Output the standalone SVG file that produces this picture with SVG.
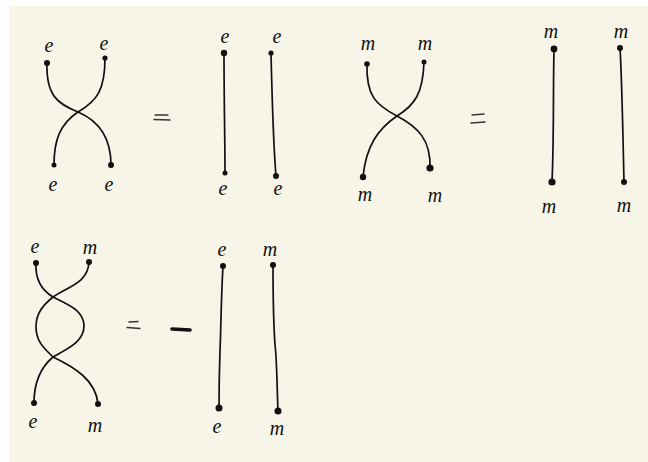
<svg xmlns="http://www.w3.org/2000/svg" width="648" height="462" viewBox="0 0 648 462">
<style>
.bg{fill:#f7f4e8}
.s{fill:none;stroke:#111;stroke-width:1.7;stroke-linecap:round;stroke-linejoin:round}
.eq{fill:none;stroke:#333;stroke-width:1.4;stroke-linecap:round}
.d{fill:#111}
.t{font-family:"Liberation Serif","DejaVu Serif",serif;font-style:italic;font-size:20px;fill:#111;text-anchor:middle}
</style>
<rect x="0" y="0" width="648" height="462" fill="#ffffff"/>
<rect class="bg" x="9" y="6" width="639" height="456"/>

<g id="connectors">
  <!-- panel 1 crossing -->
  <path class="s" d="M47,63 C46,96 58,104 78,112 C99,121 111,138 111,165"/>
  <path class="s" d="M105,58 C105,90 97,101 78,112 C60,124 54,140 54,165"/>
  <!-- panel 2 straight -->
  <path class="s" d="M224,53 C224,100 225,140 225,173"/>
  <path class="s" d="M271,53 C272,95 273,140 276,176"/>
  <!-- panel 3 crossing -->
  <path class="s" d="M367,64 C366,96 376,105 397,116 C418,127 431,140 430,168"/>
  <path class="s" d="M424,62 C423,93 415,105 397,116 C378,129 366,146 363,177"/>
  <!-- panel 4 straight -->
  <path class="s" d="M554,49 C553,95 554,140 552,182"/>
  <path class="s" d="M620,48 C622,80 623,140 624,182"/>
  <!-- panel 5 double crossing -->
  <path class="s" d="M36,263 C35,280 43,291 53,297 C68,305 84,310 84,326 C84,342 67,349 53,357 C74,367 96,380 98,404"/>
  <path class="s" d="M89,262 C88,284 66,287 53,297 C42,306 36,314 36,327 C36,342 45,349 53,357 C40,368 34,385 34,403"/>
  <!-- panel 6 straight -->
  <path class="s" d="M223,266 C221,300 221,330 220,350 C219,380 219,395 219,408"/>
  <path class="s" d="M273,265 C273,300 274,330 275,345 C277,360 277,390 278,411"/>
  <!-- equals and minus -->
  <path class="eq" d="M155,115 L168,115 M154,119.5 L170,120"/>
  <path class="eq" d="M472,115 L484,114 M471,123 L485,122"/>
  <path class="eq" d="M129,322 L138,321.5 M127,327.5 L140,328.5"/>
  <path d="M172,329 L190,330" stroke="#111" stroke-width="3.6" stroke-linecap="round" fill="none"/>
</g>

<g id="panel1">
  <circle class="d" cx="47" cy="63" r="3"/>
  <circle class="d" cx="105" cy="58" r="2.6"/>
  <circle class="d" cx="54" cy="165" r="2.5"/>
  <circle class="d" cx="111" cy="165" r="3"/>
  <text class="t" x="49" y="52">e</text>
  <text class="t" x="104" y="50">e</text>
  <text class="t" x="53" y="191">e</text>
  <text class="t" x="109" y="191">e</text>
</g>

<g id="panel2">
  <circle class="d" cx="224" cy="53" r="3.2"/>
  <circle class="d" cx="271" cy="53" r="2.6"/>
  <circle class="d" cx="225" cy="173" r="2.5"/>
  <circle class="d" cx="276" cy="176" r="3"/>
  <text class="t" x="225" y="43">e</text>
  <text class="t" x="277" y="43">e</text>
  <text class="t" x="223" y="195">e</text>
  <text class="t" x="278" y="195">e</text>
</g>

<g id="panel3">
  <circle class="d" cx="367" cy="64" r="2.8"/>
  <circle class="d" cx="424" cy="62" r="2.5"/>
  <circle class="d" cx="363" cy="177" r="3.2"/>
  <circle class="d" cx="430" cy="168" r="3.6"/>
  <text class="t" x="368" y="50">m</text>
  <text class="t" x="425" y="50">m</text>
  <text class="t" x="365" y="201">m</text>
  <text class="t" x="435" y="202">m</text>
</g>

<g id="panel4">
  <circle class="d" cx="554" cy="49" r="3.4"/>
  <circle class="d" cx="620" cy="48" r="3"/>
  <circle class="d" cx="552" cy="182" r="3.6"/>
  <circle class="d" cx="624" cy="182" r="3"/>
  <text class="t" x="551" y="38">m</text>
  <text class="t" x="621" y="38">m</text>
  <text class="t" x="549" y="213">m</text>
  <text class="t" x="624" y="212">m</text>
</g>

<g id="panel5">
  <circle class="d" cx="36" cy="263" r="3"/>
  <circle class="d" cx="89" cy="262" r="3"/>
  <circle class="d" cx="34" cy="403" r="3"/>
  <circle class="d" cx="98" cy="404" r="3"/>
  <text class="t" x="35" y="253">e</text>
  <text class="t" x="90" y="254">m</text>
  <text class="t" x="33" y="428">e</text>
  <text class="t" x="95" y="432">m</text>
</g>

<g id="panel6">
  <circle class="d" cx="223" cy="266" r="3"/>
  <circle class="d" cx="273" cy="265" r="3"/>
  <circle class="d" cx="219" cy="408" r="3.5"/>
  <circle class="d" cx="278" cy="411" r="3.5"/>
  <text class="t" x="222" y="256">e</text>
  <text class="t" x="270" y="256">m</text>
  <text class="t" x="217" y="433">e</text>
  <text class="t" x="277" y="435">m</text>
</g>
</svg>
